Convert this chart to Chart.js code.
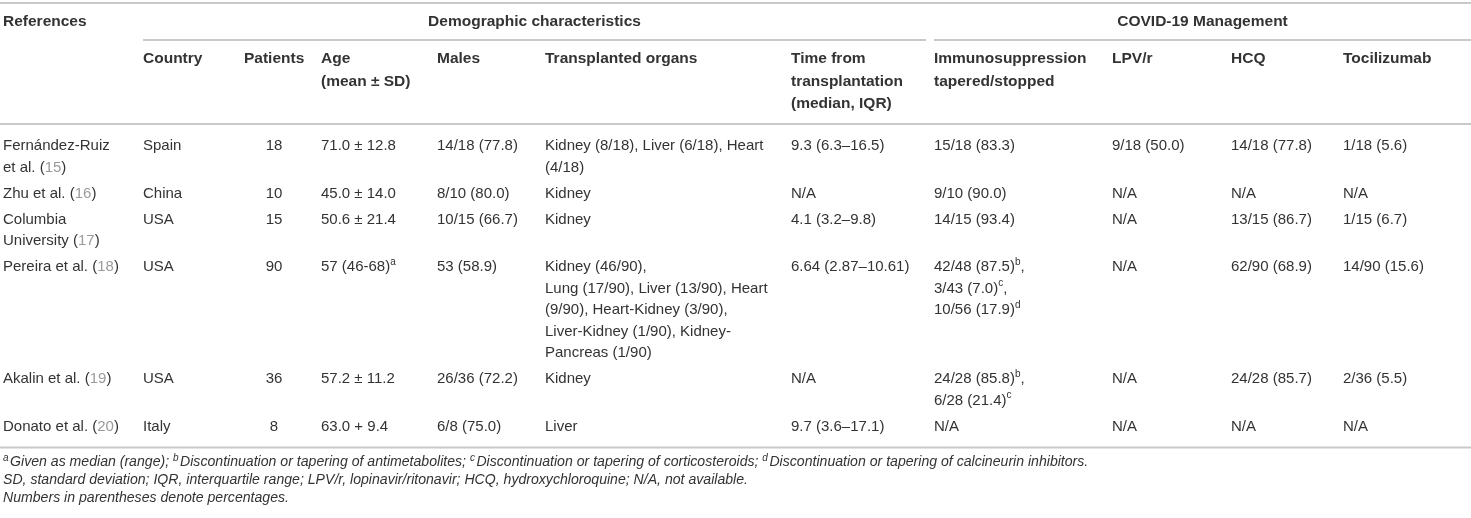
<!DOCTYPE html>
<html>
<head>
<meta charset="utf-8">
<script src="https://cdn.jsdelivr.net/npm/chart.js@4.4.1/dist/chart.umd.min.js"></script>
<style>
  html, body { margin: 0; padding: 0; background: #ffffff; }
  canvas { display: block; }
</style>
</head>
<body>
<canvas id="c" width="1471" height="518"></canvas>
<script>
// ---------- DATA ----------
const groupHeaders = ["Demographic characteristics", "COVID-19 Management"];
const firstHeader = "References";
const columnHeaders = ["Country", "Patients", "Age\n(mean ± SD)", "Males", "Transplanted organs",
  "Time from\ntransplantation\n(median, IQR)", "Immunosuppression\ntapered/stopped", "LPV/r", "HCQ", "Tocilizumab"];
const references = ["Fernández-Ruiz\net al. ([15])", "Zhu et al. ([16])", "Columbia\nUniversity ([17])",
  "Pereira et al. ([18])", "Akalin et al. ([19])", "Donato et al. ([20])"];
const countries = ["Spain", "China", "USA", "USA", "USA", "Italy"];
const patients = [18, 10, 15, 90, 36, 8];
const ages = ["71.0 ± 12.8", "45.0 ± 14.0", "50.6 ± 21.4", "57 (46-68)^a", "57.2 ± 11.2", "63.0 + 9.4"];
const males = ["14/18 (77.8)", "8/10 (80.0)", "10/15 (66.7)", "53 (58.9)", "26/36 (72.2)", "6/8 (75.0)"];
const organs = ["Kidney (8/18), Liver (6/18), Heart\n(4/18)", "Kidney", "Kidney",
  "Kidney (46/90),\nLung (17/90), Liver (13/90), Heart\n(9/90), Heart-Kidney (3/90),\nLiver-Kidney (1/90), Kidney-\nPancreas (1/90)",
  "Kidney", "Liver"];
const timeFromTransplant = ["9.3 (6.3–16.5)", "N/A", "4.1 (3.2–9.8)", "6.64 (2.87–10.61)", "N/A", "9.7 (3.6–17.1)"];
const immunosuppression = ["15/18 (83.3)", "9/10 (90.0)", "14/15 (93.4)",
  "42/48 (87.5)^b,\n3/43 (7.0)^c,\n10/56 (17.9)^d", "24/28 (85.8)^b,\n6/28 (21.4)^c", "N/A"];
const lpvr = ["9/18 (50.0)", "N/A", "N/A", "N/A", "N/A", "N/A"];
const hcq = ["14/18 (77.8)", "N/A", "13/15 (86.7)", "62/90 (68.9)", "24/28 (85.7)", "N/A"];
const tocilizumab = ["1/18 (5.6)", "N/A", "1/15 (6.7)", "14/90 (15.6)", "2/36 (5.5)", "N/A"];
const footnotes = [
  "^aGiven as median (range); ^bDiscontinuation or tapering of antimetabolites; ^cDiscontinuation or tapering of corticosteroids; ^dDiscontinuation or tapering of calcineurin inhibitors.",
  "SD, standard deviation; IQR, interquartile range; LPV/r, lopinavir/ritonavir; HCQ, hydroxychloroquine; N/A, not available.",
  "Numbers in parentheses denote percentages."
];

// ---------- STYLE / LAYOUT ----------
const FAM = '"Liberation Sans", Arial, Helvetica, sans-serif';
const TEXT = '#333333';
const REFC = '#9a9a9a';
const RULE = '#c9c9c9';
const colX = [3, 143, 274, 321, 437, 545, 791, 934, 1112, 1231, 1343];
const colAlign = ['left', 'left', 'center', 'left', 'left', 'left', 'left', 'left', 'left', 'left', 'left'];
const HEAD = 15.5, BODY = 15, NOTE = 14.1;

function tokenize(str) {
  const out = [];
  const re = /\^(\w)|\[(\d+)\]|([^\^\[]+)/g;
  let m;
  while ((m = re.exec(str)) !== null) {
    if (m[1]) out.push({ t: m[1], kind: 'sup' });
    else if (m[2]) out.push({ t: m[2], kind: 'ref' });
    else out.push({ t: m[3], kind: 'n' });
  }
  return out;
}

function drawRich(ctx, str, x, y, opt) {
  const size = opt.size, weight = opt.weight || '', style = opt.style || '';
  const base = `${style} ${weight} ${size}px ${FAM}`;
  const sup = `${style} ${weight} ${Math.round(size * (opt.supScale || 0.66))}px ${FAM}`;
  const toks = tokenize(str);
  let w = 0;
  toks.forEach(tk => {
    ctx.font = tk.kind === 'sup' ? sup : base;
    tk.w = ctx.measureText(tk.t).width + (tk.kind === 'sup' ? (opt.supGap || 0) : 0);
    w += tk.w;
  });
  let cx = x;
  if (opt.align === 'center') cx = x - w / 2;
  ctx.textAlign = 'left';
  ctx.textBaseline = 'middle';
  toks.forEach(tk => {
    ctx.font = tk.kind === 'sup' ? sup : base;
    ctx.fillStyle = tk.kind === 'ref' ? REFC : TEXT;
    ctx.fillText(tk.t, cx, tk.kind === 'sup' ? y - size * 0.33 : y);
    cx += tk.w;
  });
}

function hline(ctx, x0, x1, y) {
  ctx.strokeStyle = RULE;
  ctx.lineWidth = 2;
  ctx.beginPath();
  ctx.moveTo(x0, y);
  ctx.lineTo(x1, y);
  ctx.stroke();
}

const tablePlugin = {
  id: 'tablePlugin',
  beforeDraw(chart) {
    const ctx = chart.ctx;
    ctx.save();
    ctx.fillStyle = '#ffffff';
    ctx.fillRect(0, 0, chart.width, chart.height);
    ctx.restore();
  },
  afterDraw(chart) {
    const ctx = chart.ctx;
    const W = chart.width;
    ctx.save();
    hline(ctx, 0, W, 3);
    hline(ctx, 143, 926, 40);
    hline(ctx, 934, W, 40);
    hline(ctx, 0, W, 124);

    drawRich(ctx, firstHeader, colX[0], 22, { size: HEAD, weight: 'bold' });
    drawRich(ctx, groupHeaders[0], (143 + 926) / 2, 22, { size: HEAD, weight: 'bold', align: 'center' });
    drawRich(ctx, groupHeaders[1], (934 + W) / 2, 22, { size: HEAD, weight: 'bold', align: 'center' });

    columnHeaders.forEach((h, i) => {
      const x = i === 1 ? 244 : colX[i + 1];
      h.split('\n').forEach((ln, k) => drawRich(ctx, ln, x, 59 + k * 22.5, { size: HEAD, weight: 'bold' }));
    });

    const cols = [references, countries, patients, ages, males, organs, timeFromTransplant,
      immunosuppression, lpvr, hcq, tocilizumab];
    const LH = 21.5, GAP = 26;
    let y = 146;
    for (let r = 0; r < references.length; r++) {
      let maxLines = 1;
      cols.forEach((col, c) => {
        const lines = String(col[r]).split('\n');
        maxLines = Math.max(maxLines, lines.length);
        lines.forEach((ln, k) => drawRich(ctx, ln, colX[c], y + k * LH, { size: BODY, align: colAlign[c] }));
      });
      y += (maxLines - 1) * LH + GAP;
    }
    const bottom = y - GAP + 21;
    hline(ctx, 0, W, bottom);

    footnotes.forEach((f, i) => drawRich(ctx, f, 3, bottom + 15 + i * 18, { size: NOTE, style: 'italic', supScale: 0.72, supGap: 1.5 }));
    ctx.restore();
  }
};

new Chart(document.getElementById('c'), {
  type: 'bar',
  data: { labels: references.map(s => s.replace(/\n/g, ' ')), datasets: [] },
  options: {
    responsive: false,
    animation: false,
    layout: { padding: 0 },
    scales: { x: { display: false }, y: { display: false } },
    plugins: { legend: { display: false }, tooltip: { enabled: false } }
  },
  plugins: [tablePlugin]
});
</script>
</body>
</html>
